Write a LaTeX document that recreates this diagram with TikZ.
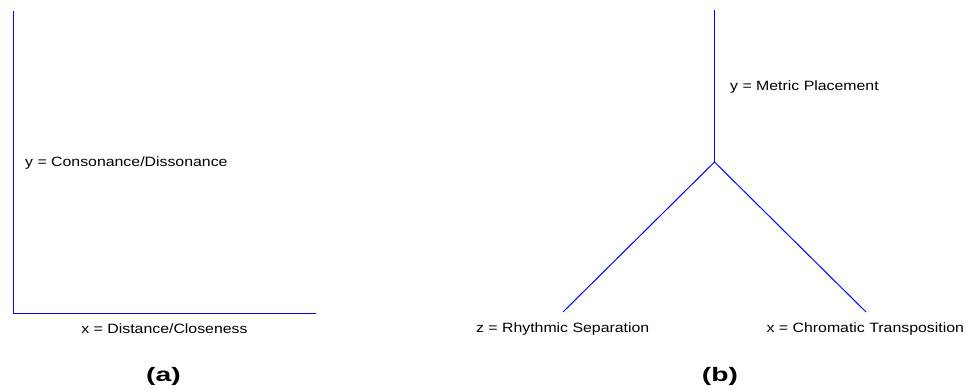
\documentclass[tikz,border=0pt]{standalone}
\usepackage{fontspec}
\setmainfont[FakeStretch=1.175]{Liberation Sans}
\newfontfamily\panelfont[FakeStretch=1.45]{Liberation Sans}
\usetikzlibrary{positioning}
\definecolor{axisblue}{RGB}{0,0,255}
\tikzset{
  axisline/.style={draw=axisblue, line width=1pt},
  axislabel/.style={font=\fontsize{13.5}{16}\selectfont, inner sep=0pt},
  panel/.style={font=\panelfont\fontsize{19.5}{22}\selectfont\bfseries, inner sep=0pt}
}
\begin{document}
\begin{tikzpicture}[x=1pt,y=-1pt]
\useasboundingbox (0,0) rectangle (970,389);
% panel (a)
\coordinate (atop) at (13.5,11);
\coordinate (aorig) at (13.5,313.5);
\coordinate (aright) at (316,313.5);
\draw[axisline] (atop) -- (aorig);
\draw[axisline] (aorig) -- (aright);
\node[axislabel, anchor=base west] (ylab) at (25,166) {y = Consonance/Dissonance};
\node[axislabel, anchor=base] (xlab) at (164.5,333) {x = Distance/Closeness};
\node[panel, anchor=base] (capa) at (163.5,381) {(a)};
% panel (b)
\coordinate (btop) at (714.5,10);
\coordinate (bmid) at (714.5,162);
\coordinate (bleft) at (563,312);
\coordinate (bright) at (866,312);
\draw[axisline] (btop) -- (bmid);
\draw[axisline] (bleft) -- (bmid) -- (bright);
\node[axislabel, anchor=base west] (mlab) at (730,90) {y = Metric Placement};
\node[axislabel, anchor=base] (zlab) at (562.7,332.7) {z = Rhythmic Separation};
\node[axislabel, anchor=base] (clab) at (865.3,332.7) {x = Chromatic Transposition};
\node[panel, anchor=base] (capb) at (720,381) {(b)};
\end{tikzpicture}
\end{document}
